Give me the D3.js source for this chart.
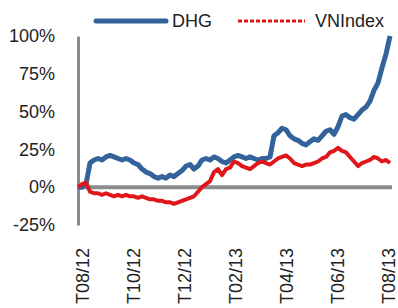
<!DOCTYPE html>
<html>
<head>
<meta charset="utf-8">
<script src="https://cdn.jsdelivr.net/npm/d3@7"></script>
<style>
  body { margin: 0; background: #fff; }
  svg { font-family: "Liberation Sans", Arial, sans-serif; }
</style>
</head>
<body>
<svg id="chart" width="398" height="308"></svg>
<script>
// DHG vs VNIndex, cumulative return (%), points read every ~4 trading sessions
const dhg = [0, 0, 2, 16, 18, 19, 18, 20, 21, 20, 19, 18, 19, 18, 16, 15, 12, 10, 9, 7,
  6, 7, 6, 8, 7, 9, 11, 14, 15, 12, 14, 18, 19, 18, 20, 19, 17, 16, 18, 20,
  21, 20, 19, 20, 19, 18, 19, 19, 20, 34, 36, 39, 38, 34, 32, 31, 29, 28, 30, 32,
  31, 34, 37, 38, 35, 40, 47, 48, 46, 45, 48, 51, 53, 57, 64, 69, 79, 88, 100];
const vnindex = [0, 2, 3, -3, -4, -4, -5, -4, -5, -6, -5, -6, -5, -6, -6, -7, -6, -7, -8, -8,
  -9, -9, -10, -10, -11, -10, -9, -8, -7, -6, -3, 0, 2, 4, 10, 12, 8, 12, 13, 17,
  16, 14, 13, 12, 14, 16, 17, 16, 15, 17, 19, 20, 21, 19, 16, 15, 14, 15, 15, 16,
  17, 19, 20, 23, 24, 26, 24, 23, 20, 17, 14, 16, 17, 18, 20, 19, 17, 18, 16];
const tickLabels = ["T08/12", "T10/12", "T12/12", "T02/13", "T04/13", "T06/13", "T08/13"];
const tickAt = [1, 13.75, 26.5, 39.25, 52, 64.75, 77.5];
const yTicks = [-25, 0, 25, 50, 75, 100];

const svg = d3.select("#chart");
const blue = "#33639a", red = "#e0161b", grey = "#8c8c8c";

const x = d3.scaleLinear().domain([0, dhg.length - 1]).range([78, 390]);
const y = d3.scaleLinear().domain([-25, 100]).range([225, 36]);

// y axis
const ya = svg.append("g").attr("transform", "translate(78,0)")
  .call(d3.axisLeft(y).tickValues(yTicks).tickSize(0).tickPadding(23)
    .tickFormat(d => d + "%"));
ya.select(".domain").attr("stroke", grey).attr("stroke-width", 3);
ya.selectAll("text").attr("font-size", 18).attr("fill", "#222")
  .attr("font-family", "Liberation Sans, Arial, sans-serif");

// zero line
svg.append("line")
  .attr("x1", x(0)).attr("x2", 392)
  .attr("y1", y(0)).attr("y2", y(0))
  .attr("stroke", grey).attr("stroke-width", 4);

// category labels (low position)
const xa = svg.append("g").attr("transform", "translate(0,248)")
  .call(d3.axisBottom(x).tickValues(tickAt).tickSize(0)
    .tickFormat((d, i) => tickLabels[i]));
xa.select(".domain").remove();
xa.selectAll("text")
  .attr("x", 0).attr("y", 0).attr("dy", "0.35em")
  .attr("transform", "rotate(-90)")
  .style("text-anchor", "end")
  .attr("font-size", 18).attr("fill", "#222")
  .attr("font-family", "Liberation Sans, Arial, sans-serif");

const line = d3.line().x((d, i) => x(i)).y(d => y(d));

svg.append("path").datum(dhg)
  .attr("fill", "none").attr("stroke", blue).attr("stroke-width", 5)
  .attr("stroke-linejoin", "round")
  .attr("d", line);
svg.append("path").datum(vnindex)
  .attr("fill", "none").attr("stroke", red).attr("stroke-width", 4)
  .attr("stroke-linejoin", "round")
  .attr("d", line);

// legend
const lg = svg.append("g");
lg.append("line").attr("x1", 96).attr("x2", 166).attr("y1", 21).attr("y2", 21)
  .attr("stroke", blue).attr("stroke-width", 5).attr("stroke-linecap", "round");
lg.append("text").attr("x", 172).attr("y", 27).text("DHG")
  .attr("font-size", 18).attr("fill", "#222");
lg.append("line").attr("x1", 238).attr("x2", 305).attr("y1", 21).attr("y2", 21)
  .attr("stroke", red).attr("stroke-width", 3).attr("stroke-dasharray", "4,2");
lg.append("text").attr("x", 315).attr("y", 27).text("VNIndex")
  .attr("font-size", 18).attr("fill", "#222");
</script>
</body>
</html>
